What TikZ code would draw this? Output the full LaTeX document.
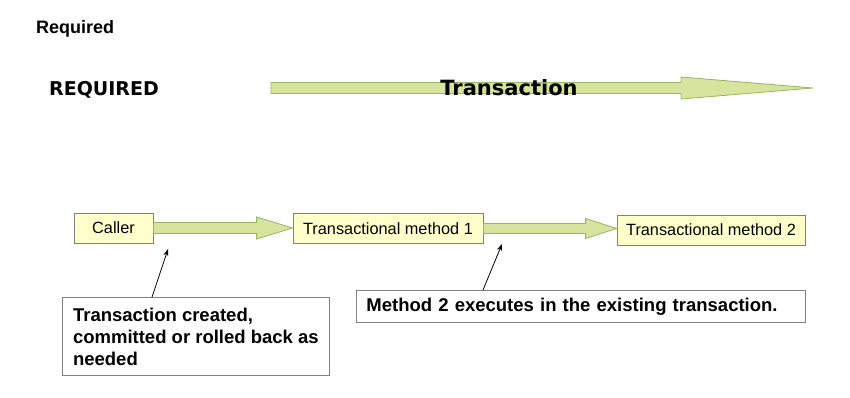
\documentclass[tikz,border=0pt]{standalone}
\usepackage{fontspec}
\setmainfont{Liberation Sans}
\newfontfamily\verdana{DejaVu Sans}
\usetikzlibrary{calc,arrows.meta}

\definecolor{arrowfill}{RGB}{215,228,158}
\definecolor{arrowline}{RGB}{150,182,98}
\definecolor{boxfill}{RGB}{255,255,204}
\definecolor{boxline}{RGB}{128,128,128}

\tikzset{
  fatarrow/.style={draw=arrowline,fill=arrowfill,line width=0.8pt,line join=miter},
  methodbox/.style={draw=boxline,fill=boxfill,line width=0.8pt,minimum height=30pt,inner sep=0pt,font=\fontsize{16.3}{18}\selectfont},
  notebox/.style={draw=boxline,fill=white,line width=0.8pt,anchor=north west,align=left,inner xsep=10pt,font=\fontsize{18.5}{22}\selectfont\bfseries},
  pointer/.style={-{Stealth[length=7pt,width=5pt]},line width=0.8pt}
}

% block arrow from #1 to #2: head length, shaft half width, head half width
\newcommand{\blockarrow}[5]{
  \draw[fatarrow] let \p1=(#1), \p2=(#2) in
    (\x1,\y1+#4) -- (\x2-#3,\y1+#4) -- (\x2-#3,\y1+#5) -- (\x2,\y1)
    -- (\x2-#3,\y1-#5) -- (\x2-#3,\y1-#4) -- (\x1,\y1-#4) -- cycle;
}

\begin{document}
\begin{tikzpicture}[x=1pt,y=1pt]
\useasboundingbox (0,0) rectangle (850,-397);

% titles
\node[anchor=west,inner sep=0pt,font=\fontsize{18}{20}\selectfont\bfseries] (title) at (36,-29) {Required};
\node[anchor=west,inner sep=0pt,font=\verdana\fontsize{19}{20}\selectfont\bfseries] (mode) at (49,-90) {REQUIRED};

% transaction span
\coordinate (txstart) at (271,-88);
\coordinate (txend) at (813,-88);
\blockarrow{txstart}{txend}{132pt}{5.5pt}{11pt}
\node[inner sep=0pt,font=\verdana\fontsize{21}{22}\selectfont\bfseries] (tx) at (509,-88) {Transaction};

% call chain
\node[methodbox,minimum width=79pt] (caller) at (113.5,-228) {Caller};
\node[methodbox,minimum width=190pt] (m1) at (388,-228.5) {Transactional method 1};
\node[methodbox,minimum width=188pt] (m2) at (711,-230) {Transactional method 2};
\blockarrow{caller.east}{m1.west}{36pt}{5.5pt}{11pt}
\blockarrow{m1.east}{m2.west}{31pt}{5pt}{10pt}

% notes
\node[notebox,minimum width=267pt,minimum height=78pt] (note1) at (62,-297)
  {Transaction created,\\committed or rolled back as\\needed};
\node[notebox,minimum width=449pt,minimum height=32pt,text width=429pt] (note2) at (356,-290)
  {Method 2 executes in the existing transaction.};

\coordinate (hit1) at (168,-249);
\coordinate (hit2) at (502,-244);
\draw[pointer] ([xshift=90pt]note1.north west) -- (hit1);
\draw[pointer] ([xshift=127pt]note2.north west) -- (hit2);
\end{tikzpicture}
\end{document}
